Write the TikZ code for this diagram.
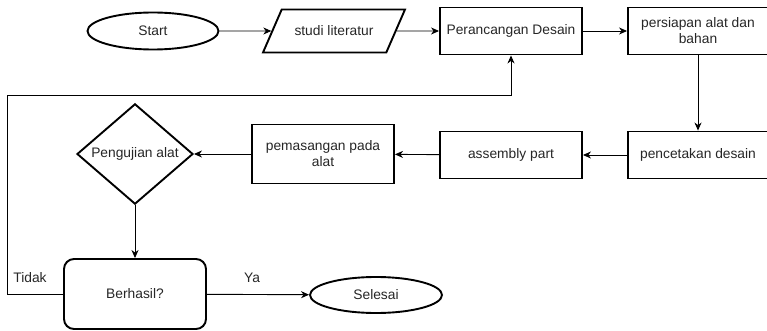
\documentclass[tikz,border=0pt]{standalone}
\usepackage{fontspec}
\setmainfont{Liberation Sans}
\usetikzlibrary{shapes.geometric,arrows.meta}

\tikzset{
    box/.style={draw, line width=1.9pt, rectangle, minimum width=142pt, minimum height=47pt, inner sep=0pt, align=center, text=black!85},
    term/.style={draw, line width=1.9pt, ellipse, minimum width=131pt, minimum height=37pt, inner sep=0pt, text=black!85},
    io/.style={draw, line width=1.9pt, trapezium, trapezium left angle=65, trapezium right angle=115, trapezium stretches body, minimum width=142pt, minimum height=43pt, inner xsep=0pt, inner ysep=15pt, text=black!85},
    decide/.style={draw, line width=1.9pt, diamond, minimum width=116pt, minimum height=94pt, inner sep=0pt, text=black!85},
    flow/.style={line width=0.9pt, -{Stealth[length=8pt,width=7pt,inset=2.5pt]}},
}

\begin{document}
\begin{tikzpicture}[x=1pt, y=-1pt, font=\fontsize{13.8}{16}\selectfont]
    \useasboundingbox (0,0) rectangle (767,331);

    % Define the positions of the nodes
    \node[term] (start) at (153,31) {Start};
    \node[io] (studi) at (334,31) {studi literatur};
    \node[box] (rancang) at (511,31) {Perancangan Desain};
    \node[box, minimum width=140pt] (siap) at (698,31) {persiapan alat dan\\bahan};

    \node[box, minimum width=140pt] (cetak) at (698,155) {pencetakan desain};
    \node[box] (assembly) at (511,155) {assembly part};
    \node[box, minimum height=59pt] (pasang) at (323,154) {pemasangan pada\\alat};
    \node[decide] (uji) at (135,154) {Pengujian alat};

    \node[box, rounded corners=10pt, minimum height=70pt] (hasil) at (135,294) {Berhasil?};
    \node[term, minimum width=132pt, minimum height=36pt] (selesai) at (376,295) {Selesai};

    \node[text=black!85] (ya) at (252,278) {Ya};
    \node[text=black!85] (tidak) at (30,278) {Tidak};
    \coordinate (balik) at (7,95);

    % Draw the edges
    \draw[flow] (start) -- (studi);
    \draw[flow] (studi) -- (rancang);
    \draw[flow] (rancang) -- (siap);
    \draw[flow] (siap) -- (cetak);
    \draw[flow] (cetak) -- (assembly);
    \draw[flow] (assembly) -- (pasang);
    \draw[flow] (pasang) -- (uji);
    \draw[flow] (uji) -- (hasil);
    \draw[flow] (hasil) -- (selesai);
    \draw[flow] (hasil.west) -| (balik) -| (rancang.south);
\end{tikzpicture}
\end{document}
